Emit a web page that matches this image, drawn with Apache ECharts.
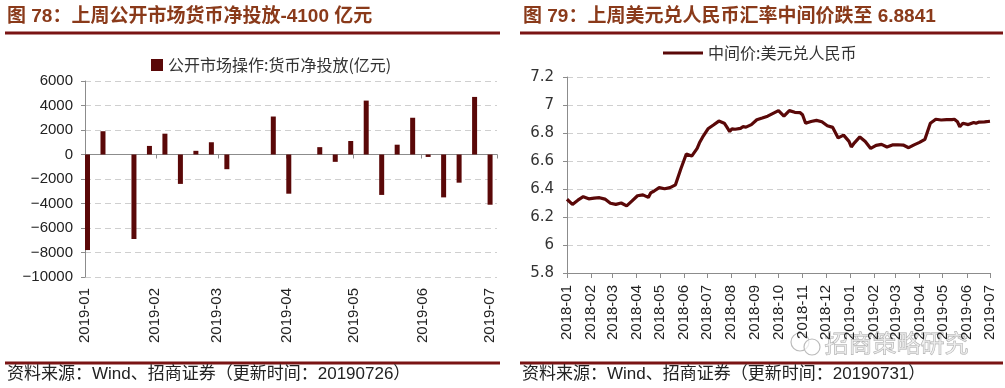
<!DOCTYPE html>
<html>
<head>
<meta charset="utf-8">
<script src="https://cdn.jsdelivr.net/npm/echarts@6/dist/echarts.min.js"></script>
<style>html,body{margin:0;padding:0;background:#fff}#c{width:1005px;height:388px}</style>
</head>
<body>
<div id="c"></div>
<script>
// ---- Left chart: weekly net injection (亿元)
const barName = '公开市场操作:货币净投放(亿元)';
const barDates = ['2019-01-01','2019-01-08','2019-01-22','2019-01-29','2019-02-05','2019-02-12','2019-02-19','2019-02-26',
  '2019-03-05','2019-03-26','2019-04-02','2019-04-16','2019-04-23','2019-04-30','2019-05-07','2019-05-14',
  '2019-05-21','2019-05-28','2019-06-04','2019-06-11','2019-06-18','2019-06-25','2019-07-02'];
const barValues = [-7800,1900,-6900,700,1700,-2400,300,1000,
  -1200,3100,-3200,600,-600,1100,4400,-3300,
  800,3000,-200,-3500,-2300,4700,-4100];
const leftYTicks = {min:-10000, max:6000, interval:2000};

// ---- Right chart: USD/CNY central parity
const lineName = '中间价:美元兑人民币';
const fxDates = [
  '2018-01-01','2018-01-08','2018-01-15','2018-01-22','2018-01-29',
  '2018-02-05','2018-02-12','2018-02-19','2018-02-26',
  '2018-03-05','2018-03-12','2018-03-19','2018-03-26',
  '2018-04-02','2018-04-09','2018-04-16','2018-04-19','2018-04-23','2018-04-30',
  '2018-05-07','2018-05-14','2018-05-21','2018-05-28',
  '2018-06-04','2018-06-11','2018-06-18','2018-06-21','2018-06-25',
  '2018-07-02','2018-07-09','2018-07-16','2018-07-23','2018-07-26','2018-07-30',
  '2018-08-02','2018-08-06','2018-08-13','2018-08-16','2018-08-20','2018-08-27',
  '2018-09-03','2018-09-10','2018-09-17','2018-09-24',
  '2018-10-01','2018-10-08','2018-10-15','2018-10-22','2018-10-29',
  '2018-11-01','2018-11-05','2018-11-12','2018-11-19','2018-11-26',
  '2018-12-03','2018-12-10','2018-12-17','2018-12-24','2018-12-31',
  '2019-01-03','2019-01-07','2019-01-14','2019-01-21','2019-01-28',
  '2019-02-04','2019-02-11','2019-02-18','2019-02-25',
  '2019-03-04','2019-03-11','2019-03-18','2019-03-25',
  '2019-04-01','2019-04-08','2019-04-15','2019-04-22','2019-04-29',
  '2019-05-06','2019-05-13','2019-05-16','2019-05-20','2019-05-23','2019-05-27',
  '2019-06-03','2019-06-10','2019-06-13','2019-06-17','2019-06-24',
  '2019-07-01'];
const fxValues = [
  6.327,6.290,6.320,6.345,6.330,
  6.335,6.338,6.328,6.298,
  6.290,6.300,6.279,6.315,
  6.352,6.358,6.340,6.372,6.384,6.410,
  6.402,6.410,6.430,6.545,
  6.650,6.635,6.690,6.730,6.770,
  6.830,6.857,6.885,6.870,6.845,6.810,
  6.830,6.827,6.833,6.845,6.842,6.860,
  6.895,6.907,6.920,6.940,
  6.960,6.920,6.960,6.948,6.945,
  6.930,6.870,6.882,6.890,6.880,
  6.852,6.840,6.765,6.785,6.740,
  6.700,6.730,6.772,6.740,6.690,
  6.712,6.719,6.700,6.715,
  6.716,6.714,6.695,6.715,
  6.733,6.755,6.870,6.898,6.893,
  6.895,6.896,6.898,6.880,6.845,6.870,
  6.860,6.875,6.870,6.878,6.880,
  6.884];
const rightYTicks = {min:5.8, max:7.2, interval:0.2};

const titleLeft = '图 78：上周公开市场货币净投放-4100 亿元';
const titleRight = '图 79：上周美元兑人民币汇率中间价跌至 6.8841';
const sourceLeft = '资料来源：Wind、招商证券（更新时间：20190726）';
const sourceRight = '资料来源：Wind、招商证券（更新时间：20190731）';
const watermark = '招商策略研究';

const DARK = '#5a0808';
const RULE = '#7a1414';
const TITLE = '#8a3a1a';
const AXIS = '#8c8c8c';
const GRID = '#cfcfcf';
const DAY = 24*3600*1000;
const latin = "'Liberation Sans','Noto Sans CJK SC',sans-serif";
const cjk = "'Noto Sans CJK SC',sans-serif";

const chart = echarts.init(document.getElementById('c'), null, {renderer:'canvas'});

function monthLabel(){
  return {rotate:90, formatter:'{yyyy}-{MM}', fontSize:15, fontFamily:latin, color:'#222', interval:0, hideOverlap:false};
}

const option = {
  animation:false,
  backgroundColor:'#fff',
  legend:[
    {data:[barName], left:151, top:57, padding:0, icon:'rect', itemWidth:12, itemHeight:12,
     textStyle:{fontFamily:cjk, fontSize:16, color:'#333'}},
    {data:[lineName], left:663, top:45, padding:0, icon:'rect', itemWidth:40, itemHeight:3,
     textStyle:{fontFamily:cjk, fontSize:16, color:'#333'}}
  ],
  grid:[
    {left:85, top:81, width:412, height:196},
    {left:567, top:77, width:423, height:196}
  ],
  xAxis:[
    {gridIndex:0, type:'time', min:'2019-01-01', max:'2019-07-04',
     minInterval:28*DAY, maxInterval:31*DAY,
     axisLine:{onZero:true, lineStyle:{color:AXIS, width:1}},
     axisTick:{show:true, length:4, lineStyle:{color:AXIS}},
     axisLabel:{show:false}, splitLine:{show:false}},
    {gridIndex:0, type:'time', min:'2019-01-01', max:'2019-07-04', position:'bottom',
     minInterval:28*DAY, maxInterval:31*DAY,
     axisLine:{show:false, onZero:false}, axisTick:{show:false},
     axisLabel:Object.assign(monthLabel(), {margin:11}), splitLine:{show:false}},
    {gridIndex:1, type:'time', min:'2018-01-01', max:'2019-07-01',
     minInterval:28*DAY, maxInterval:31*DAY,
     axisLine:{onZero:false, lineStyle:{color:AXIS, width:1}},
     axisTick:{show:true, length:5, lineStyle:{color:AXIS}},
     axisLabel:Object.assign(monthLabel(), {margin:12}), splitLine:{show:false}}
  ],
  yAxis:[
    {gridIndex:0, type:'value', min:leftYTicks.min, max:leftYTicks.max, interval:leftYTicks.interval,
     axisLine:{show:true, lineStyle:{color:AXIS}},
     axisTick:{show:true, length:4, lineStyle:{color:AXIS}},
     axisLabel:{fontSize:15, fontFamily:latin, color:'#222', margin:12,
       formatter:v => String(v).replace('-', '\u2212')},
     splitLine:{show:true, lineStyle:{color:GRID, type:[6,4]}}},
    {gridIndex:1, type:'value', min:rightYTicks.min, max:rightYTicks.max, interval:rightYTicks.interval,
     axisLine:{show:true, lineStyle:{color:AXIS}},
     axisTick:{show:true, length:4, lineStyle:{color:AXIS}},
     axisLabel:{fontSize:15, fontFamily:"'DejaVu Sans',sans-serif", color:'#333', margin:13,
       formatter:v => String(Math.round(v*10)/10)},
     splitLine:{show:true, lineStyle:{color:GRID, type:[6,4]}}}
  ],
  series:[
    {name:barName, type:'bar', xAxisIndex:0, yAxisIndex:0, barWidth:5, clip:false,
     itemStyle:{color:DARK},
     data:barDates.map((d,i) => [d, barValues[i]])},
    {name:lineName, type:'line', xAxisIndex:2, yAxisIndex:1, symbol:'none', showSymbol:false,
     lineStyle:{color:DARK, width:3.2}, itemStyle:{color:DARK},
     data:fxDates.map((d,i) => [d, fxValues[i]])}
  ],
  graphic:[
    {type:'text', left:7, top:7, style:{text:titleLeft, fill:TITLE, font:"bold 19px 'Liberation Sans','Noto Sans CJK SC'"}},
    {type:'text', left:523, top:7, style:{text:titleRight, fill:TITLE, font:"bold 19px 'Liberation Sans','Noto Sans CJK SC'"}},
    {type:'rect', shape:{x:5, y:31.5, width:495, height:3}, style:{fill:RULE}},
    {type:'rect', shape:{x:520, y:31.5, width:483, height:3}, style:{fill:RULE}},
    {type:'rect', shape:{x:5, y:361.5, width:495, height:3}, style:{fill:RULE}},
    {type:'rect', shape:{x:520, y:361.5, width:483, height:3}, style:{fill:RULE}},
    {type:'text', left:7, top:366, style:{text:sourceLeft, fill:'#222', font:"17px 'Liberation Sans','Noto Sans CJK SC'"}},
    {type:'text', left:522, top:366, style:{text:sourceRight, fill:'#222', font:"17px 'Liberation Sans','Noto Sans CJK SC'"}},
    {type:'circle', shape:{cx:800, cy:342, r:9}, style:{fill:'none', stroke:'#bbb', lineWidth:1.2}},
    {type:'circle', shape:{cx:812, cy:347, r:8}, style:{fill:'rgba(255,255,255,0.7)', stroke:'#bbb', lineWidth:1.2}},
    {type:'text', left:824, top:330, style:{text:watermark, fill:'rgba(235,235,235,0.6)', stroke:'#aaa', lineWidth:0.8, font:"24px 'Noto Sans CJK SC'"}}
  ]
};
chart.setOption(option);
</script>
</body>
</html>
